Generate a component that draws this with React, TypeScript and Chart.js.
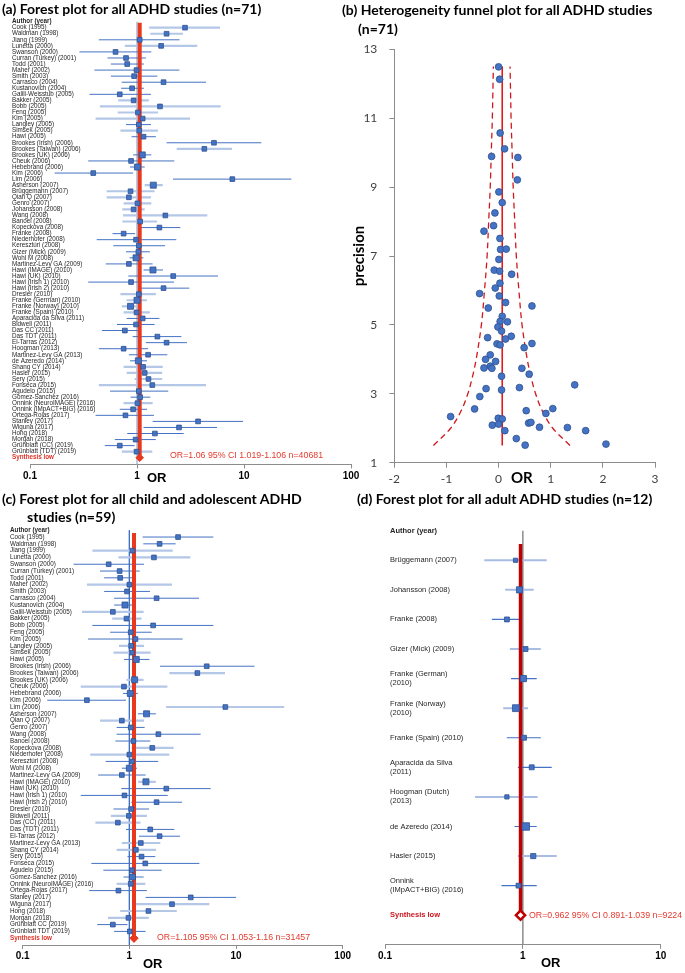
import React, { useEffect, useRef } from "react";
import { Chart, registerables } from "chart.js";
Chart.register(...registerables);

// ---------------- DATA ----------------
// (a) all ADHD studies
const namesA = [
  "Cook (1995)", "Waldman (1998)", "Jiang (1999)", "Lunetta (2000)", "Swanson (2000)", "Curran (Turkey) (2001)", "Todd (2001)", "Maher (2002)", "Smith (2003)", "Carrasco (2004)",
  "Kustanovich (2004)", "Galili-Weisstub (2005)", "Bakker (2005)", "Bobb (2005)", "Feng (2005)", "Kim (2005)", "Langley (2005)", "Simsek (2005)", "Hawi (2005)", "Brookes (Irish) (2006)",
  "Brookes (Taiwan) (2006)", "Brookes (UK) (2006)", "Cheuk (2006)", "Hebebrand (2006)", "Kim (2006)", "Lim (2006)", "Asherson (2007)", "Brüggemann (2007)", "Qian Q (2007)", "Genro (2007)",
  "Johansson (2008)", "Wang (2008)", "Banoei (2008)", "Kopeckova (2008)", "Franke (2008)", "Niederhofer (2008)", "Keresztúri (2008)", "Gizer (Mick) (2009)", "Wohl M (2008)", "Martinez-Levy GA (2009)",
  "Hawi (IMAGE) (2010)", "Hawi (UK) (2010)", "Hawi (Irish 1) (2010)", "Hawi (Irish 2) (2010)", "Dresler (2010)", "Franke (German) (2010)", "Franke (Norway) (2010)", "Franke (Spain) (2010)", "Aparacida da Silva (2011)", "Bidwell (2011)",
  "Das CC (2011)", "Das TDT (2011)", "El-Tarras (2012)", "Hoogman (2013)", "Martinez-Levy GA (2013)", "de Azeredo (2014)", "Shang CY (2014)", "Hasler (2015)", "Sery (2015)", "Fonseca (2015)",
  "Agudelo (2015)", "Gomez-Sanchez (2016)", "Onnink (NeuroIMAGE) (2016)", "Onnink (IMpACT+BIG) (2016)", "Ortega-Rojas (2017)", "Stanley (2017)", "Wiguna (2017)", "Hong (2018)", "Morgan (2018)", "Grünblatt (CC) (2019)",
  "Grünblatt (TDT) (2019)",
];
const orA = [
  2.81, 1.89, 1.06, 1.68, 0.63, 0.79, 0.81, 0.99, 0.94, 1.77,
  0.90, 0.69, 0.93, 1.64, 1.02, 1.13, 1.04, 1.05, 1.15, 5.24,
  4.26, 1.12, 0.88, 1.01, 0.39, 7.78, 1.42, 0.87, 0.84, 1.01,
  0.93, 1.84, 1.07, 1.62, 0.75, 0.98, 1.04, 1.03, 0.98, 0.84,
  1.41, 2.18, 0.88, 1.77, 1.04, 1.00, 0.87, 0.99, 1.13, 0.98,
  0.77, 1.55, 1.89, 0.75, 1.27, 1.03, 1.14, 1.18, 1.28, 1.39,
  1.04, 1.07, 1.01, 0.92, 0.78, 3.72, 2.47, 1.47, 0.97, 0.69,
  0.99,
];
const loA = [
  1.30, 1.33, 0.44, 0.77, 0.29, 0.53, 0.57, 0.40, 0.57, 0.72,
  0.71, 0.36, 0.67, 0.45, 0.66, 0.41, 0.79, 0.70, 0.89, 1.89,
  2.35, 0.92, 0.35, 0.86, 0.17, 2.17, 1.18, 0.52, 0.52, 0.75,
  0.73, 0.74, 0.73, 1.05, 0.59, 0.42, 0.60, 0.79, 0.85, 0.51,
  1.15, 0.83, 0.35, 1.04, 0.70, 0.80, 0.72, 0.75, 0.80, 0.65,
  0.47, 0.91, 1.21, 0.44, 0.84, 0.86, 0.75, 0.80, 0.95, 0.44,
  0.56, 0.87, 0.75, 0.69, 0.41, 1.40, 1.15, 0.81, 0.62, 0.50,
  0.72,
];
const hiA = [
  5.97, 2.69, 2.50, 3.66, 1.36, 1.21, 1.16, 2.49, 1.55, 4.42,
  1.16, 1.35, 1.29, 6.05, 1.57, 3.13, 1.35, 1.57, 1.50, 14.5,
  7.73, 1.36, 2.23, 1.18, 0.92, 27.7, 1.74, 1.46, 1.35, 1.36,
  1.18, 4.54, 1.54, 2.54, 0.96, 2.33, 1.83, 1.32, 1.15, 1.40,
  1.75, 5.71, 2.22, 3.08, 1.50, 1.24, 1.05, 1.32, 1.62, 1.46,
  1.02, 2.60, 2.93, 1.27, 1.92, 1.24, 1.74, 1.72, 1.72, 4.42,
  1.96, 1.33, 1.40, 1.24, 1.44, 9.80, 5.60, 2.73, 1.50, 0.95,
  1.39,
];
const heavyA = ["Brookes (UK) (2006)", "Hebebrand (2006)", "Asherson (2007)", "Wohl M (2008)", "Hawi (IMAGE) (2010)", "Franke (German) (2010)", "Franke (Norway) (2010)", "de Azeredo (2014)"];
const lightA = ["Cook (1995)", "Waldman (1998)", "Lunetta (2000)", "Bakker (2005)", "Bobb (2005)", "Feng (2005)", "Kim (2005)", "Simsek (2005)", "Brookes (Taiwan) (2006)", "Asherson (2007)", "Brüggemann (2007)", "Qian Q (2007)", "Genro (2007)", "Johansson (2008)", "Wang (2008)", "Banoei (2008)", "Dresler (2010)", "Franke (German) (2010)", "Franke (Norway) (2010)", "Franke (Spain) (2010)", "Shang CY (2014)", "Hasler (2015)", "Sery (2015)", "Fonseca (2015)", "Onnink (NeuroIMAGE) (2016)", "Grünblatt (TDT) (2019)"];
const pooledA = 1.06;
const summaryA = "OR=1.06 95% CI 1.019-1.106 n=40681";

// (c) child and adolescent ADHD studies
const namesC = [
  "Cook (1995)", "Waldman (1998)", "Jiang (1999)", "Lunetta (2000)", "Swanson (2000)", "Curran (Turkey) (2001)", "Todd (2001)", "Maher (2002)", "Smith (2003)", "Carrasco (2004)",
  "Kustanovich (2004)", "Galili-Weisstub (2005)", "Bakker (2005)", "Bobb (2005)", "Feng (2005)", "Kim (2005)", "Langley (2005)", "Simsek (2005)", "Hawi (2005)", "Brookes (Irish) (2006)",
  "Brookes (Taiwan) (2006)", "Brookes (UK) (2006)", "Cheuk (2006)", "Hebebrand (2006)", "Kim (2006)", "Lim (2006)", "Asherson (2007)", "Qian Q (2007)", "Genro (2007)", "Wang (2008)",
  "Banoei (2008)", "Kopeckova (2008)", "Niederhofer (2008)", "Keresztúri (2008)", "Wohl M (2008)", "Martinez-Levy GA (2009)", "Hawi (IMAGE) (2010)", "Hawi (UK) (2010)", "Hawi (Irish 1) (2010)", "Hawi (Irish 2) (2010)",
  "Dresler (2010)", "Bidwell (2011)", "Das (CC) (2011)", "Das (TDT) (2011)", "El-Tarras (2012)", "Martinez-Levy GA (2013)", "Shang CY (2014)", "Sery (2015)", "Fonseca (2015)", "Agudelo (2015)",
  "Gomez-Sanchez (2016)", "Onnink (NeuroIMAGE) (2016)", "Ortega-Rojas (2017)", "Stanley (2017)", "Wiguna (2017)", "Hong (2018)", "Morgan (2018)", "Grünblatt CC (2019)", "Grünblatt TDT (2019)",
];
const orC = [
  2.86, 1.92, 1.07, 1.70, 0.64, 0.81, 0.82, 1.00, 0.95, 1.80,
  0.91, 0.70, 0.94, 1.67, 1.03, 1.14, 1.04, 1.06, 1.16, 5.31,
  4.34, 1.12, 0.89, 1.02, 0.40, 7.94, 1.45, 0.85, 1.03, 1.87,
  1.09, 1.64, 1.00, 1.06, 1.00, 0.85, 1.43, 2.22, 0.90, 1.80,
  1.04, 0.99, 0.78, 1.57, 1.92, 1.28, 1.15, 1.30, 1.41, 1.06,
  1.07, 1.03, 0.79, 3.76, 2.51, 1.51, 0.98, 0.70, 1.01,
];
const loC = [
  1.33, 1.35, 0.45, 0.79, 0.30, 0.53, 0.58, 0.40, 0.58, 0.72,
  0.72, 0.36, 0.69, 0.45, 0.66, 0.41, 0.80, 0.71, 0.89, 1.94,
  2.37, 0.94, 0.35, 0.87, 0.17, 2.21, 1.20, 0.53, 0.76, 0.76,
  0.74, 1.05, 0.43, 0.60, 0.85, 0.51, 1.21, 0.84, 0.35, 1.04,
  0.71, 0.67, 0.48, 0.93, 1.23, 0.85, 0.76, 0.96, 0.44, 0.57,
  0.88, 0.76, 0.42, 1.42, 1.12, 0.82, 0.63, 0.50, 0.72,
];
const hiC = [
  6.13, 2.72, 2.55, 3.73, 1.37, 1.25, 1.15, 2.51, 1.56, 4.50,
  1.15, 1.36, 1.30, 6.13, 1.62, 3.16, 1.37, 1.58, 1.54, 14.9,
  7.88, 1.36, 2.27, 1.20, 0.93, 28.3, 1.77, 1.37, 1.39, 4.66,
  1.57, 2.60, 2.37, 1.86, 1.18, 1.42, 1.77, 5.79, 2.29, 3.12,
  1.53, 1.46, 1.27, 2.64, 2.98, 1.95, 1.78, 1.75, 4.53, 2.01,
  1.36, 1.41, 1.46, 10.0, 5.62, 2.78, 1.52, 0.96, 1.42,
];
const heavyC = ["Kustanovich (2004)", "Hawi (2005)", "Brookes (UK) (2006)", "Hebebrand (2006)", "Asherson (2007)", "Wohl M (2008)", "Hawi (IMAGE) (2010)", "Gomez-Sanchez (2016)"];
const lightC = ["Jiang (1999)", "Lunetta (2000)", "Maher (2002)", "Galili-Weisstub (2005)", "Bakker (2005)", "Langley (2005)", "Simsek (2005)", "Brookes (Taiwan) (2006)", "Brookes (UK) (2006)", "Cheuk (2006)", "Lim (2006)", "Qian Q (2007)", "Kopeckova (2008)", "Niederhofer (2008)", "Hawi (IMAGE) (2010)", "Bidwell (2011)", "Das (CC) (2011)", "Martinez-Levy GA (2013)", "Shang CY (2014)", "Onnink (NeuroIMAGE) (2016)", "Wiguna (2017)", "Hong (2018)", "Morgan (2018)"];
const pooledC = 1.105;
const summaryC = "OR=1.105 95% CI 1.053-1.16 n=31457";

// (d) adult ADHD studies
const namesD = [
  "Brüggemann (2007)", "Johansson (2008)", "Franke (2008)", "Gizer (Mick) (2009)", "Franke (German)\n(2010)", "Franke (Norway)\n(2010)",
  "Franke (Spain) (2010)", "Aparacida da Silva\n(2011)", "Hoogman (Dutch)\n(2013)", "de Azeredo (2014)", "Hasler (2015)", "Onnink\n(IMpACT+BIG) (2016)",
];
const orD = [0.885, 0.946, 0.766, 1.045, 1.01, 0.89, 1.02, 1.16, 0.766, 1.05, 1.19, 0.93];
const loD = [0.525, 0.745, 0.596, 0.805, 0.82, 0.72, 0.765, 0.92, 0.45, 0.87, 0.92, 0.70];
const hiD = [1.49, 1.20, 0.956, 1.35, 1.26, 1.09, 1.35, 1.62, 1.28, 1.26, 1.76, 1.26];
const weightD = [0.5, 2, 1, 1, 2, 2.5, 1, 1, 0.5, 3, 1.2, 1];
const lightD = ["Brüggemann (2007)", "Johansson (2008)", "Gizer (Mick) (2009)", "Franke (Norway)\n(2010)", "Hoogman (Dutch)\n(2013)", "Hasler (2015)"];
const pooledD = 0.962;
const summaryD = "OR=0.962 95% CI 0.891-1.039 n=9224";

const orTicks = [0.1, 1, 10, 100];
const orTicksD = [0.1, 1, 10];

// (b) funnel plot
const funnelLogOR = [
  0, 0.02, 0.03, 0.115, -0.134, 0.37, 0.36, 0.006, 0.07, -0.07,
  -0.096, -0.28, 0.026, 0.038, 0.147, 0.006, -0.083, 0.02, 0.25, 0.026,
  -0.064, -0.364, 0.013, 0.134, 0.64, -0.198, 0.07, 0.17, 0.03, -0.013,
  0.057, 0.243, -0.21, 0.134, -0.03, 0.03, 0.64, 0.49, -0.16, -0.25,
  -0.057, -0.16, -0.28, -0.128, 0.447, 0.587, 0.057, 1.46, 0.40, -0.24,
  0.057, -0.36, -0.46, 1.04, 0.53, 0.907, -0.92, -0.006, 0.07, 0.575,
  0.62, -0.12, 0.0, 0.785, 1.32, 0.12, 1.67, 0.34, 0.51, 2.06,
];
const funnelPrecision = [
  12.49, 12.13, 10.57, 10.11, 9.89, 9.86, 9.21, 8.86, 8.55, 8.25,
  7.88, 7.72, 7.51, 7.19, 7.20, 6.90, 6.59, 6.56, 6.47, 6.21,
  6.07, 5.91, 5.84, 5.65, 5.55, 5.49, 5.25, 5.09, 5.10, 4.94,
  4.82, 4.67, 4.63, 4.59, 4.45, 4.42, 4.46, 4.34, 4.13, 4.00,
  3.94, 3.80, 3.75, 3.74, 3.74, 3.57, 3.51, 3.26, 3.18, 3.15,
  3.11, 2.92, 2.56, 2.57, 2.51, 2.43, 2.34, 2.29, 2.27, 2.15,
  2.17, 2.09, 2.12, 2.03, 2.02, 1.93, 1.93, 1.70, 1.51, 1.54,
];
const boundPrecision = [1.5, 2, 2.5, 3, 3.5, 4, 5, 6, 7, 8, 9, 10, 11, 12.5];
const boundLow = [-1.25, -0.92, -0.72, -0.59, -0.50, -0.43, -0.33, -0.27, -0.22, -0.19, -0.16, -0.14, -0.12, -0.10];
const boundHigh = [1.37, 1.04, 0.84, 0.71, 0.62, 0.55, 0.45, 0.39, 0.34, 0.31, 0.28, 0.26, 0.24, 0.22];
const funnelCentre = 0.07;

// ---------------- STYLE ----------------
const ARIAL = '"Liberation Sans", Arial, sans-serif';
const CAL = 'Lato, "Open Sans", sans-serif';
const BLUE = "#4472c4";
const BLUE_EDGE = "#2f528f";

function lineDs(data: any[], color: string, width: number, order: number, extra: any = {}) {
  return {
    type: "line", data, borderColor: color, backgroundColor: color, borderWidth: width,
    pointRadius: 0, pointHoverRadius: 0, fill: false, tension: 0, spanGaps: false, order, ...extra,
  };
}

function forestConfig(s: any) {
  const rows = s.names.length;
  const labels = ["Author (year)", ...s.names, "Synthesis low"];
  const seg = (pick: (n: string) => boolean) => {
    const d: any[] = [];
    s.names.forEach((n: string, i: number) => {
      if (pick(n)) d.push({ x: s.lo[i], y: i }, { x: s.hi[i], y: i }, { x: s.hi[i], y: null });
    });
    return d;
  };
  return {
    type: "scatter",
    data: {
      datasets: [
        lineDs([{ x: 1, y: s.refTop }, { x: 1, y: s.yMax }], s.refColor, s.refWidth, 7),
        lineDs(seg((n) => s.light.includes(n)), s.lightColor, s.lightWidth, 6),
        lineDs(seg((n) => !s.light.includes(n)), BLUE, s.darkWidth, 5),
        lineDs([{ x: s.pooled, y: s.redTop }, { x: s.pooled, y: rows }], s.redColor, s.redWidth, 4),
        {
          type: "scatter", data: s.or.map((v: number, i: number) => ({ x: v, y: i })),
          pointStyle: "rect", pointRadius: s.weight.map((w: number) => s.side(w) / Math.SQRT2),
          pointHoverRadius: 0, backgroundColor: BLUE, borderColor: BLUE_EDGE, borderWidth: 0.8, order: 2,
        },
        {
          type: "scatter", data: [{ x: s.pooled, y: rows }], pointStyle: "rectRot",
          pointRadius: s.diamondRadius, pointHoverRadius: 0, backgroundColor: s.diamondFill,
          borderColor: s.redColor, borderWidth: s.diamondBorder, order: 1,
        },
      ],
    },
    options: {
      responsive: false, animation: false, devicePixelRatio: 1, events: [],
      layout: { padding: s.pad },
      plugins: { legend: { display: false }, tooltip: { enabled: false } },
      scales: {
        x: {
          type: "logarithmic", min: s.xMin, max: s.xMax,
          afterBuildTicks: (sc: any) => { sc.ticks = s.xTicks.map((v: number) => ({ value: v })); },
          afterFit: (sc: any) => { sc.height = 20; },
          ticks: {
            autoSkip: false, maxRotation: 0, padding: s.tickPad, color: "#000",
            font: { family: ARIAL, size: s.tickSize, weight: "bold" },
            callback: (v: any) => String(v),
          },
          grid: { display: true, drawOnChartArea: false, drawTicks: true, tickLength: s.tickLen, color: "#8c8c8c", lineWidth: 1 },
          border: { display: true, color: "#8c8c8c", width: 1 },
        },
        y: {
          type: "linear", reverse: true, min: s.yMin, max: s.yMax,
          afterBuildTicks: (sc: any) => { sc.ticks = labels.map((_: any, k: number) => ({ value: k - 1 })); },
          afterFit: (sc: any) => { sc.width = 0; },
          ticks: {
            mirror: true, crossAlign: "near", padding: s.labelPad, autoSkip: false,
            callback: (v: any) => labels[Math.round(v) + 1].split("\n"),
            font: (c: any) => {
              const edge = c.index === 0 || c.index === rows + 1;
              return { family: ARIAL, size: s.labelSize, weight: edge ? "bold" : "normal", lineHeight: 1.2 };
            },
            color: (c: any) => (c.index === rows + 1 ? s.synthColor : "#262626"),
          },
          grid: { display: false },
          border: { display: false },
        },
      },
    },
  };
}

function funnelConfig() {
  const axisColor = "#8c8c8c";
  return {
    type: "scatter",
    data: {
      datasets: [
        {
          type: "scatter", data: funnelLogOR.map((x, i) => ({ x, y: funnelPrecision[i] })),
          pointRadius: 3.4, pointHoverRadius: 0, backgroundColor: BLUE, borderColor: BLUE_EDGE, borderWidth: 0.8, order: 1,
        },
        lineDs([{ x: funnelCentre, y: boundPrecision[0] }, { x: funnelCentre, y: boundPrecision[boundPrecision.length - 1] }], "#e31a1c", 1.6, 2),
        lineDs(boundLow.map((x, i) => ({ x, y: boundPrecision[i] })), "#d0181c", 1.3, 3, { borderDash: [6, 4], tension: 0.35 }),
        lineDs(boundHigh.map((x, i) => ({ x, y: boundPrecision[i] })), "#d0181c", 1.3, 3, { borderDash: [6, 4], tension: 0.35 }),
      ],
    },
    options: {
      responsive: false, animation: false, devicePixelRatio: 1, events: [],
      layout: { padding: { left: 0, right: 30, top: 49.3, bottom: 12.3 } },
      plugins: { legend: { display: false }, tooltip: { enabled: false } },
      scales: {
        x: {
          type: "linear", min: -2, max: 3,
          afterFit: (sc: any) => { sc.height = 25; },
          ticks: { stepSize: 1, padding: 4, color: "#404040", font: { family: CAL, size: 12 } },
          grid: { display: true, drawOnChartArea: false, drawTicks: true, tickLength: 5, color: axisColor },
          border: { display: true, color: axisColor, width: 1 },
        },
        y: {
          type: "linear", min: 1, max: 13,
          afterFit: (sc: any) => { sc.width = 54.3; },
          ticks: { stepSize: 2, padding: 12, color: "#404040", font: { family: CAL, size: 12 } },
          grid: { display: true, drawOnChartArea: false, drawTicks: true, tickLength: 5, color: axisColor },
          border: { display: true, color: axisColor, width: 1 },
          title: { display: true, text: "precision", color: "#000", font: { family: CAL, size: 15, weight: "bold" }, padding: { top: 10, bottom: 0 } },
        },
      },
    },
  };
}

const specA = {
  names: namesA, or: orA, lo: loA, hi: hiA, weight: namesA.map((n) => (heavyA.includes(n) ? 2 : 1)),
  light: lightA, pooled: pooledA, xMin: 0.1, xMax: 100, xTicks: orTicks, yMin: -1.6, yMax: 72.1,
  pad: { left: 30, right: 14, top: 18, bottom: 5.6 }, labelPad: -18, labelSize: 6.3,
  refColor: "#a5b9dc", refWidth: 1.5, refTop: -1, redColor: "#e8391e", redWidth: 4, redTop: -0.8,
  diamondFill: "#e8391e", diamondRadius: 3.8, diamondBorder: 1, side: (w: number) => (w > 1 ? 6 : 4.7),
  lightColor: "#b4c7e7", lightWidth: 2.2, darkWidth: 1, tickSize: 10, tickPad: 2, tickLen: 4, synthColor: "#e03226",
};
const specC = {
  names: namesC, or: orC, lo: loC, hi: hiC, weight: namesC.map((n) => (heavyC.includes(n) ? 2 : 1)),
  light: lightC, pooled: pooledC, xMin: 0.1, xMax: 100, xTicks: orTicks, yMin: -1.8, yMax: 60,
  pad: { left: 22.7, right: 22.3, top: 44.8, bottom: 8 }, labelPad: -12.7, labelSize: 6.3,
  refColor: "#4472c4", refWidth: 1, refTop: -1, redColor: "#e8391e", redWidth: 4, redTop: -0.6,
  diamondFill: "#e8391e", diamondRadius: 4.2, diamondBorder: 1, side: (w: number) => (w > 1 ? 6 : 4.7),
  lightColor: "#b4c7e7", lightWidth: 2.2, darkWidth: 1, tickSize: 10, tickPad: 1, tickLen: 4, synthColor: "#e03226",
};
const specD = {
  names: namesD, or: orD, lo: loD, hi: hiD, weight: weightD,
  light: lightD, pooled: pooledD, xMin: 0.1, xMax: 10, xTicks: orTicksD, yMin: -1.5, yMax: 13,
  pad: { left: 45, right: 24.3, top: 35.9, bottom: 8.2 }, labelPad: 5, labelSize: 7.5,
  refColor: "#8c8c8c", refWidth: 1.5, refTop: -1, redColor: "#c00000", redWidth: 3.5, redTop: -0.55,
  diamondFill: "#ffffff", diamondRadius: 4.6, diamondBorder: 2.5, side: (w: number) => 3.6 + 1.3 * w,
  lightColor: "#a9bde4", lightWidth: 2, darkWidth: 1.2, tickSize: 10, tickPad: 1, tickLen: 4, synthColor: "#c8141c",
};

function ChartCanvas(props: { left: number; top: number; width: number; height: number; make: () => any }) {
  const ref = useRef<HTMLCanvasElement>(null);
  useEffect(() => {
    const chart = new Chart(ref.current as HTMLCanvasElement, props.make());
    return () => chart.destroy();
  }, []);
  return (
    <canvas
      ref={ref}
      width={props.width}
      height={props.height}
      style={{ position: "absolute", left: props.left, top: props.top, width: props.width, height: props.height }}
    />
  );
}

function T(p: { x: number; cy: number; size: number; family: string; weight?: string | number; color?: string; children: any }) {
  const H = Math.round(p.size * 1.3);
  return (
    <div
      style={{
        position: "absolute", left: p.x, top: p.cy - H / 2, height: H, lineHeight: H + "px",
        fontSize: p.size, fontFamily: p.family, fontWeight: p.weight ?? "normal",
        color: p.color ?? "#000", whiteSpace: "nowrap",
      }}
    >
      {p.children}
    </div>
  );
}

export default function App() {
  const red = "#e53a2e";
  return (
    <div style={{ position: "absolute", left: 0, top: 0, width: 685, height: 973, background: "#fff", overflow: "hidden" }}>
      <ChartCanvas left={0} top={0} width={365} height={490} make={() => forestConfig(specA)} />
      <ChartCanvas left={0} top={480} width={365} height={493} make={() => forestConfig(specC)} />
      <ChartCanvas left={340} top={480} width={345} height={493} make={() => forestConfig(specD)} />
      <ChartCanvas left={340} top={0} width={345} height={500} make={funnelConfig} />

      <T x={2} cy={9} size={14} family={CAL} weight="bold">(a) Forest plot for all ADHD studies (n=71)</T>
      <T x={342} cy={10} size={14} family={CAL} weight="bold">(b) Heterogeneity funnel plot for all ADHD studies</T>
      <T x={358} cy={29} size={14} family={CAL} weight="bold">(n=71)</T>
      <T x={2} cy={499} size={14.1} family={CAL} weight="bold">(c) Forest plot for all child and adolescent ADHD</T>
      <T x={27} cy={517} size={14.1} family={CAL} weight="bold">studies (n=59)</T>
      <T x={357} cy={499} size={14} family={CAL} weight="bold">(d) Forest plot for all adult ADHD studies (n=12)</T>

      <T x={147} cy={477} size={13} family={ARIAL} weight="bold">OR</T>
      <T x={143} cy={963} size={13} family={ARIAL} weight="bold">OR</T>
      <T x={541} cy={962} size={13} family={ARIAL} weight="bold">OR</T>
      <T x={511} cy={477} size={15} family={CAL} weight="bold">OR</T>

      <T x={170} cy={455} size={8.8} family={ARIAL} color={red}>{summaryA}</T>
      <T x={157} cy={937} size={8.8} family={ARIAL} color={red}>{summaryC}</T>
      <T x={529} cy={915} size={8.8} family={ARIAL} color={red}>{summaryD}</T>
    </div>
  );
}
